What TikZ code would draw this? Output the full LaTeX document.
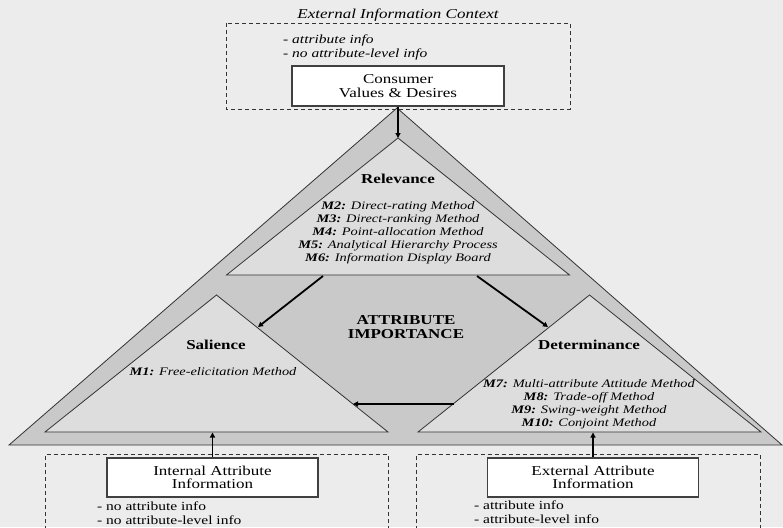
\documentclass[tikz,border=0pt]{standalone}
\usepackage{fontspec}
\setmainfont{Liberation Serif}
\usepackage{graphicx}
\usetikzlibrary{arrows.meta}
\newcommand\hs[1]{\scalebox{1.25}[1]{#1}}
\definecolor{bgc}{HTML}{ECECEC}
\definecolor{bandc}{HTML}{C9C9C9}
\definecolor{innerc}{HTML}{DDDDDD}
\definecolor{linec}{HTML}{333333}
\tikzset{
  tri/.style={draw=linec, line width=0.8pt, line join=miter},
  dashbox/.style={draw=black!80, line width=0.9pt, dash pattern=on 4pt off 3pt},
  whitebox/.style={draw=black!75, line width=1.2pt, fill=white, minimum width=211pt, minimum height=39pt, inner sep=0pt, align=center, font=\fontsize{13.6}{13.5}\selectfont},
  arr/.style={line width=1.8pt, -{Triangle[length=5pt,width=5pt]}},
  lbl/.style={font=\fontsize{13.6}{14}\selectfont\bfseries, inner sep=0pt, align=center},
  meth/.style={font=\fontsize{11.5}{13}\selectfont\itshape, inner sep=0pt, align=center},
  info/.style={font=\fontsize{12.4}{14}\selectfont, inner sep=0pt, align=left, anchor=west},
}
\begin{document}
\begin{tikzpicture}[x=1pt,y=-1pt]
\useasboundingbox (0,0) rectangle (783,527);
\fill[bgc] (0,0) rectangle (783,527);

% outer triangle
\coordinate (OL) at (9,445);
\coordinate (OR) at (782,445);
\coordinate (OT) at (397,108);
\filldraw[tri, fill=bandc] (OL) -- (OR) -- (OT) -- cycle;

% inner triangles
\coordinate (RT) at (398,138);
\coordinate (RL) at (226.5,275);
\coordinate (RR) at (569.5,275);
\filldraw[tri, fill=innerc] (RL) -- (RR) -- (RT) -- cycle;
\coordinate (ST) at (216.5,295);
\coordinate (SL) at (45,432);
\coordinate (SR) at (388,432);
\filldraw[tri, fill=innerc] (SL) -- (SR) -- (ST) -- cycle;
\coordinate (DT) at (589.5,295);
\coordinate (DL) at (418,432);
\coordinate (DR) at (761,432);
\filldraw[tri, fill=innerc] (DL) -- (DR) -- (DT) -- cycle;

% top dashed context
\node[font=\fontsize{13.6}{14}\selectfont\itshape, inner sep=0pt] (ctx) at (398,15) {\hs{External Information Context}};
\draw[dashbox] (226,23) rectangle (570,109);
\node[info, font=\fontsize{12.4}{14}\selectfont\itshape] (topinfo) at (283,47) {\hs{- attribute info}\\\hs{- no attribute-level info}};
\node[whitebox, minimum width=212pt, minimum height=40pt] (cons) at (398,86) {\hs{Consumer}\\\hs{Values \& Desires}};

% bottom dashed boxes
\draw[dashbox] (45,530) -- (45,454.5) -- (388,454.5) -- (388,530);
\draw[dashbox] (416,530) -- (416,454.5) -- (760,454.5) -- (760,530);
\node[whitebox] (intbox) at (212.5,477.5) {\hs{Internal Attribute}\\\hs{Information}};
\node[whitebox] (extbox) at (593,477.5) {\hs{External Attribute}\\\hs{Information}};
\node[info] (intinfo) at (97,513) {\hs{- no attribute info}\\\hs{- no attribute-level info}};
\node[info] (extinfo) at (474,512.5) {\hs{- attribute info}\\\hs{- attribute-level info}};

% labels
\node[lbl] (rel) at (398,179) {\hs{Relevance}};
\node[meth] (relm) at (398,233) {\hs{\textbf{M2:} Direct-rating Method}\\\hs{\textbf{M3:} Direct-ranking Method}\\\hs{\textbf{M4:} Point-allocation Method}\\\hs{\textbf{M5:} Analytical Hierarchy Process}\\\hs{\textbf{M6:} Information Display Board}};
\node[lbl] (ai) at (406,327) {\hs{ATTRIBUTE}\\\hs{IMPORTANCE}};
\node[lbl] (sal) at (216,345) {\hs{Salience}};
\node[meth] (salm) at (213,372) {\hs{\textbf{M1:} Free-elicitation Method}};
\node[lbl] (det) at (589,345) {\hs{Determinance}};
\node[meth] (detm) at (589,404.5) {\hs{\textbf{M7:} Multi-attribute Attitude Method}\\\hs{\textbf{M8:} Trade-off Method}\\\hs{\textbf{M9:} Swing-weight Method}\\\hs{\textbf{M10:} Conjoint Method}};

% arrows
\coordinate (a2s) at (323,276);
\coordinate (a2e) at (258,327);
\coordinate (a3s) at (477,276);
\coordinate (a3e) at (548,327);
\coordinate (a4s) at (454,404);
\coordinate (a4e) at (353,404);
\coordinate (a5e) at (212.5,432.5);
\coordinate (a6e) at (593,432.5);
\draw[arr] (cons.south) -- (RT);
\draw[arr] (a2s) -- (a2e);
\draw[arr] (a3s) -- (a3e);
\draw[arr] (a4s) -- (a4e);
\draw[arr] (intbox.north) -- (a5e);
\draw[arr] (extbox.north) -- (a6e);
\end{tikzpicture}
\end{document}
